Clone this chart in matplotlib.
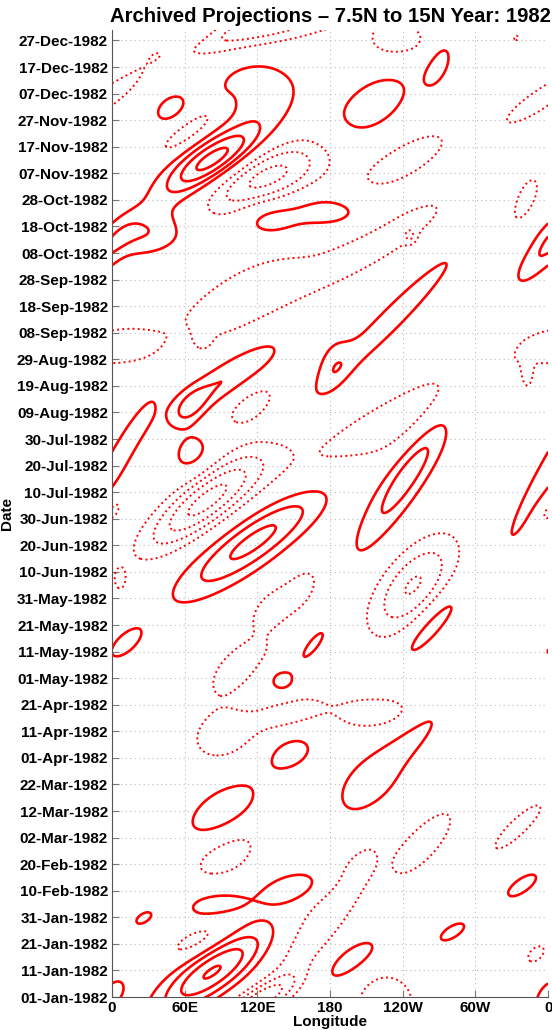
import datetime as dt
import matplotlib
matplotlib.use("Agg")
import matplotlib.pyplot as plt
import numpy as np

plt.rcParams['font.family'] = ['Liberation Sans', 'DejaVu Sans']

# anomaly centres
# lon (deg E), day of 1982, amplitude, zonal width (deg), time width (days), eastward drift (deg/day)
blob_lon = [82.6, 120.5, 71, 226, 176, 197, 0, 350, 281, 338.5,
            335, 258, 213, 250, 215, 93, 147, 147, 140, 166,
            105.7, 91, 93, 85, 151, 26, 11, 0, 6.6, 248.5,
            264, 155, 129, 246, 118, 78, 238, 114, 95.8, 66,
            0, 230, 182.5, 108, 225, 75, 8, 343, 353, 31,
            129, 178, 246, 341, 82.6, 127, 242, 64, 116, 48,
            213, 270, 125, 70, 236, 353, 333.6, 0, 64, 80]
blob_day = [9.4, -1.1, 21.8, -2, 31, 13.9, 1, 16.2, 24.5, 42,
            64, 58, 80, 98.6, 107, 98.6, 107, 92, 119, 132.5,
            125, 70, 53.5, 34.6, 41.4, 29.7, 133, 183, 157, 155,
            140, 153, 146, 198, 172, 187, 217, 222.8, 233, 205,
            198, 255, 239, 263, 285, 248, 245, 235, 279, 287,
            292.5, 295.5, 286.4, 300, 315, 308.6, 315, 326, 342.8, 334.6,
            334.6, 351.5, 365, 363, 360, 337.6, 361, 367, 222, 312]
blob_amp = [4.1, -3.3, -1.6, -2.0, -1.9, 1.6, 1.6, -1.4, 1.5, 1.5,
            -1.5, -1.5, 1.6, 1.5, -1.5, -1.6, -1.5, 1.5, 1.5, 1.5,
            -1.5, 2.1, -1.5, 1.6, 1.6, 1.4, 1.5, -1.3, -1.3, -3.1,
            1.7, -1.4, -1.4, 2.6, 3.4, -4.3, -1.7, -1.5, 2.06, 1.5,
            1.6, 1.6, 1.2, -1.6, -1.5, -0.85, -1.4, -1.3, 1.5, 1.5,
            1.6, 1.8, -1.2, -1.4, 3.6, -3.4, -1.5, -1.8, 1.6, 1.5,
            1.7, 1.5, -2.6, 1.6, -1.6, -1.5, -1.15, -1.3, 1.5, 1.2]
blob_sl = [20, 14, 14, 18, 16, 14, 8, 7, 8, 9,
           10, 15, 20, 12, 30, 22, 18, 16, 10, 5,
           18, 18, 22, 22, 22, 6, 9, 7, 4, 20,
           10, 14, 9, 13, 22, 20, 35, 15, 18, 12,
           9, 12, 10, 34, 22, 5, 20, 3, 10, 25,
           18, 24, 3.5, 10, 18, 30, 22, 10, 24, 10,
           22, 8, 41, 12, 22, 14, 3, 4, 9, 22]
blob_sd = [11, 6, 6, 8, 22, 7, 5, 3.5, 3.5, 4.5,
           9, 12, 10, 10, 6, 8, 5, 6, 4, 5,
           10, 8, 9, 5, 5, 2.5, 5, 5, 3.5, 13,
           11, 8, 5, 22, 15, 13, 20, 7, 11, 6,
           25, 22, 8, 15, 14, 3, 4.5, 4, 9, 6,
           5, 5, 2, 10, 8.5, 10, 10, 7, 8, 4.5,
           11, 7, 8, 5, 6, 9, 1.5, 3, 5, 20]
blob_c = [2.3, 2.8, 2.5, 0, 1.4, 2, 1, 1, 2, 2,
          2, 1.5, 1, 2, 0.5, 0.7, 1.5, 1, 0, 1.5,
          1.5, 1.5, 1.2, 0.5, 1.5, 1.5, 1.5, 1, 0, 1.2,
          1.7, 1, 1, 1.34, 2.5, 2.2, 3.4, 1.5, 2.6, 0.5,
          1.2, 2.1, 0.5, 2.4, 3, 0, 0.5, 0, 1.5, 0.5,
          0, 0.3, 0, 0.8, 2.4, 2.5, 2.5, 2.5, 0.3, 1,
          1.5, 0.7, 6, 2, 0, 2.7, 0, 0, 1, 2.2]

lon_ticks = [0, 60, 120, 180, 240, 300, 360]
lon_labels = ['0', '60E', '120E', '180', '120W', '60W', '0']
start = dt.date(1982, 1, 1)
day_ticks = list(range(0, 361, 10))
day_labels = [(start + dt.timedelta(days=d)).strftime('%d-%b-%Y') for d in day_ticks]

lon = np.linspace(0, 360, 721)
day = np.arange(-8, 372, 0.5)
LON, DAY = np.meshgrid(lon, day)
field = np.zeros_like(LON)
for lo, d0, a, sl, sd, c in zip(blob_lon, blob_day, blob_amp, blob_sl, blob_sd, blob_c):
    dl = (LON - lo - c * (DAY - d0) + 180) % 360 - 180
    field += a * np.exp(-0.5 * (dl / sl) ** 2 - 0.5 * ((DAY - d0) / sd) ** 2)

fig = plt.figure(figsize=(5.52, 10.30), dpi=100)
ax = fig.add_axes([0.203, 0.032, 0.790, 0.939])

ax.contour(LON, DAY, field, levels=[1, 2, 3, 4], colors='red',
           linewidths=1.9, linestyles='solid')
ax.contour(LON, DAY, field, levels=[-4, -3, -2, -1], colors='red',
           linewidths=1.4, linestyles='dotted')

ax.set_xlim(0, 360)
ax.set_ylim(0, 364)
ax.set_xticks(lon_ticks)
ax.set_xticklabels(lon_labels)
ax.set_yticks(day_ticks)
ax.set_yticklabels(day_labels)
ax.tick_params(direction='in', length=5, color='#777777', pad=3,
               labelsize=11)
for t in ax.get_xticklabels() + ax.get_yticklabels():
    t.set_fontweight('bold')
ax.grid(True, color='#bbbbbb', linestyle=(0, (1, 3)), linewidth=0.8)
ax.spines['top'].set_visible(False)
ax.spines['right'].set_visible(False)
ax.spines['left'].set_color('#555555')
ax.spines['bottom'].set_color('#555555')

ax.set_title('Archived Projections \u2013 7.5N to 15N Year: 1982',
             fontsize=14.6, fontweight='bold', pad=6)
ax.set_xlabel('Longitude', fontsize=11, fontweight='bold', labelpad=0)
ax.set_ylabel('Date', fontsize=11, fontweight='bold', labelpad=2)

fig.savefig('out.png', dpi=100)
